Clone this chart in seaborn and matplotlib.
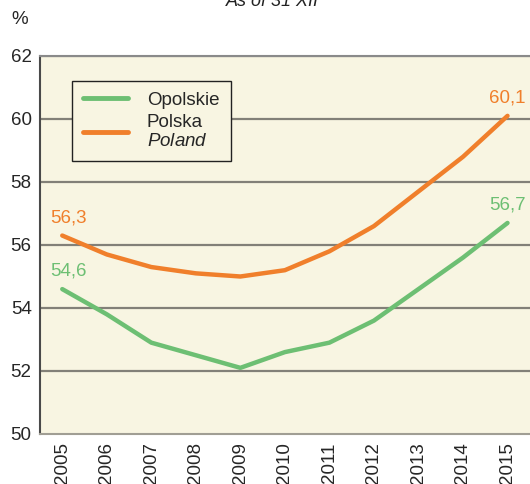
import pandas as pd
import matplotlib.pyplot as plt
import seaborn as sns
from matplotlib.lines import Line2D

# Data (as of 31 XII)
years = [2005, 2006, 2007, 2008, 2009, 2010, 2011, 2012, 2013, 2014, 2015]
opolskie = [54.6, 53.8, 52.9, 52.5, 52.1, 52.6, 52.9, 53.6, 54.6, 55.6, 56.7]
polska = [56.3, 55.7, 55.3, 55.1, 55.0, 55.2, 55.8, 56.6, 57.7, 58.8, 60.1]
series_names = ["Opolskie", "Polska"]
y_ticks = [50, 52, 54, 56, 58, 60, 62]

GREEN = "#6dbf73"
ORANGE = "#f07f2b"
BG = "#f8f5e2"


def main():
    sns.set_style("white")
    plt.rcParams["font.family"] = ["Liberation Sans", "DejaVu Sans"]
    plt.rcParams["mathtext.fontset"] = "custom"
    plt.rcParams["mathtext.it"] = "Liberation Sans:italic"
    plt.rcParams["mathtext.rm"] = "Liberation Sans"

    df = pd.DataFrame({
        "year": years * 2,
        "value": opolskie + polska,
        "series": [series_names[0]] * len(years) + [series_names[1]] * len(years),
    })

    fig = plt.figure(figsize=(5.3, 4.84), dpi=100)
    ax = fig.add_axes([40 / 530, 1 - 434 / 484, 492 / 530, (434 - 56) / 484])
    ax.set_facecolor(BG)

    for y in y_ticks[1:]:
        ax.axhline(y, color="#828078", lw=1.6, zorder=1)

    sns.lineplot(data=df, x="year", y="value", hue="series",
                 palette={"Opolskie": GREEN, "Polska": ORANGE},
                 linewidth=3.2, ax=ax, zorder=3, legend=False)

    # end labels
    for vals, col in [(opolskie, GREEN), (polska, ORANGE)]:
        for idx in (0, -1):
            txt = f"{vals[idx]:.1f}".replace(".", ",")
            ha = "left" if idx == 0 else "center"
            xoff = -0.27 if idx == 0 else 0.0
            ax.text(years[idx] + xoff, vals[idx] + 0.3, txt, color=col,
                    fontsize=13.5, ha=ha, va="bottom", zorder=4)

    ax.set_xlim(2004.5, 2015.55)
    ax.set_ylim(50, 62)
    ax.set_xticks(years)
    ax.set_xticklabels([str(y) for y in years], rotation=90, fontsize=13.5)
    ax.set_yticks(y_ticks)
    ax.set_yticklabels([str(y) for y in y_ticks], fontsize=13.5)
    ax.tick_params(axis="both", length=0, pad=6)
    ax.set_xlabel("")
    ax.set_ylabel("")

    ax.spines["right"].set_visible(False)
    ax.spines["left"].set_color("#4a4a4a")
    ax.spines["left"].set_linewidth(1.5)
    ax.spines["bottom"].set_color("#a09e94")
    ax.spines["bottom"].set_linewidth(1.5)
    ax.spines["top"].set_color("#8a8a8a")
    ax.spines["top"].set_linewidth(1.5)

    # legend
    handles = [Line2D([], [], color=GREEN, lw=3.5), Line2D([], [], color=ORANGE, lw=3.5)]
    labels = ["Opolskie", "Polska\n$\\mathit{Poland}$"]
    leg = ax.legend(handles, labels, loc="upper left", bbox_to_anchor=(0.065, 0.935),
                    borderaxespad=0, fontsize=13.5, frameon=True, fancybox=False,
                    handlelength=2.4, handletextpad=1.0, borderpad=0.6,
                    labelspacing=0.25)
    leg.get_frame().set_edgecolor("#222222")
    leg.get_frame().set_facecolor(BG)
    leg.get_frame().set_alpha(1)
    leg.get_frame().set_linewidth(1.0)
    leg.set_zorder(5)

    fig.text(20 / 530, 1 - 20 / 484, "%", fontsize=13.5, ha="center", va="center")
    fig.text(272 / 530, 1 - 2 / 484, "As of 31 XII", fontsize=13, style="italic",
             ha="center", va="center", color="#222222")

    fig.savefig("out.png", dpi=100)
    plt.close(fig)


if __name__ == "__main__":
    main()
